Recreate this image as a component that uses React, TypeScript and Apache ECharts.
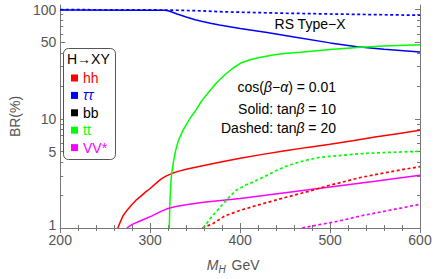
import React, { useEffect, useRef } from "react";
import * as echarts from "echarts";

// ---- data (BR in %) ----
const hhSolidM = [264, 267, 270, 275, 280, 285, 290, 295, 300, 306, 312, 318, 324, 330, 340, 357, 380, 400, 425, 450, 475, 500, 525, 550, 575, 600];
const hhSolidBR = [1, 1.15, 1.3, 1.48, 1.65, 1.82, 1.97, 2.14, 2.3, 2.55, 2.8, 3.0, 3.15, 3.28, 3.45, 3.7, 4.05, 4.35, 4.72, 5.1, 5.47, 5.85, 6.3, 6.8, 7.3, 7.85];
const hhDashM = [358, 370, 383, 400, 423, 450, 475, 497, 534, 565, 600];
const hhDashBR = [1, 1.1, 1.29, 1.45, 1.65, 1.9, 2.15, 2.43, 2.9, 3.25, 3.65];

const tauSolidM = [200, 300, 316, 320, 324, 330, 340, 350, 357, 367, 377, 400, 430, 460, 500, 530, 560, 600];
const tauSolidBR = [98.9, 98.6, 98.3, 97.5, 95, 91, 85.5, 80.5, 78, 75, 72.2, 67, 61.5, 56, 49.5, 45.7, 43.3, 40.8];
const tauDashM = [200, 300, 330, 357, 377, 400, 450, 500, 550, 600];
const tauDashBR = [99.7, 99.3, 98.5, 97.2, 95.5, 94.5, 92.5, 91, 89.8, 88.6];

const ttSolidM = [321.2, 322, 323, 324, 326, 328, 330, 332, 336, 340, 345, 350, 357, 365, 374, 383, 392, 401, 410, 420, 438, 452, 467, 500, 530, 560, 600];
const ttSolidBR = [1, 1.8, 2.6, 3.2, 4.1, 5, 5.8, 6.5, 7.7, 8.8, 10.3, 11.7, 14.5, 17.5, 21.5, 25.3, 29, 32.4, 34.5, 36.2, 38.5, 39.7, 40.7, 43, 45, 46.3, 47.5];
const ttDashM = [358.8, 362, 366, 371, 376, 381, 386, 395, 405, 414, 425, 437, 450, 465, 476, 487, 500, 510, 524, 540, 560, 580, 600];
const ttDashBR = [1, 1.08, 1.2, 1.34, 1.49, 1.67, 1.85, 2.2, 2.45, 2.63, 2.9, 3.25, 3.65, 4.0, 4.22, 4.41, 4.53, 4.6, 4.72, 4.82, 4.9, 4.97, 5.03];

const vvSolidM = [274, 280, 290, 302, 312, 318, 324, 330, 340, 357, 400, 450, 500, 550, 600];
const vvSolidBR = [1, 1.08, 1.17, 1.29, 1.42, 1.49, 1.54, 1.58, 1.63, 1.71, 1.86, 2.1, 2.37, 2.68, 3.04];
const vvDashM = [469, 490, 510, 534, 560, 580, 600];
const vvDashBR = [1, 1.08, 1.16, 1.29, 1.42, 1.53, 1.65];

const bbM: number[] = [];
const bbBR: number[] = [];

const xTicks = [200, 300, 400, 500, 600];
const yMajorTicks = [1, 5, 10, 50, 100];
const yMinorTicks = [2, 3, 4, 6, 7, 8, 9, 20, 30, 40, 60, 70, 80, 90];
const legendNames = ["hh", "ττ", "bb", "tt", "VV*"];

const RED = "#ff0000";
const BLUE = "#0000ff";
const BLACK = "#000000";
const GREEN = "#00ff00";
const MAGENTA = "#ff00ff";
const FRAME = "#777777";
const LABEL = "#555555";
const FONT = "'Liberation Sans', Arial, sans-serif";

const lg = (v: number) => Math.log10(v);
const pts = (m: number[], br: number[]) => m.map((x, i) => [x, lg(br[i])]);

export default function App() {
  const ref = useRef<HTMLDivElement>(null);
  useEffect(() => {
    document.body.style.margin = "0";
    if (!ref.current) return;
    const chart = echarts.init(ref.current, undefined, { renderer: "svg" });
    const yMax = lg(110);
    const majorLog = yMajorTicks.map(lg);
    const minorLog = yMinorTicks.map(lg);
    const solid = (name: string, color: string, m: number[], br: number[]) => ({
      name,
      type: "line",
      data: pts(m, br),
      showSymbol: false,
      symbol: "none",
      color,
      itemStyle: { color },
      lineStyle: { color, width: 1.5 },
      smooth: false,
      clip: true,
      z: 3,
    });
    const dashed = (name: string, color: string, m: number[], br: number[]) => ({
      ...solid(name, color, m, br),
      lineStyle: { color, width: 1.7, type: [3, 2.5] },
    });
    const baseX = {
      type: "value",
      min: xTicks[0],
      max: xTicks[xTicks.length - 1],
      interval: 100,
      axisLine: { show: true, lineStyle: { color: FRAME, width: 1 } },
      axisTick: { show: true, inside: true, length: 5, lineStyle: { color: FRAME } },
      minorTick: { show: true, splitNumber: 5, length: 3, lineStyle: { color: FRAME } },
      splitLine: { show: false },
    };
    const baseY = {
      type: "value",
      min: 0,
      max: yMax,
      splitLine: { show: false },
    };
    chart.setOption({
      animation: false,
      grid: { left: 58, right: 16, top: 5, bottom: 50 },
      textStyle: { fontFamily: FONT },
      xAxis: [
        {
          ...baseX,
          position: "bottom",
          axisLabel: { color: LABEL, fontSize: 14, margin: 5, fontFamily: FONT },
          name: "{i|M}{s|H} GeV",
          nameLocation: "middle",
          nameGap: 28,
          nameTextStyle: {
            color: LABEL,
            fontSize: 14,
            fontFamily: FONT,
            padding: [0, 14, 0, 0],
            rich: {
              i: { fontStyle: "italic", fontSize: 14, color: LABEL, fontFamily: FONT },
              s: { fontStyle: "italic", fontSize: 10, color: LABEL, fontFamily: FONT, padding: [8, 2, 0, 0] },
            },
          },
        },
        { ...baseX, position: "top", axisLabel: { show: false } },
      ],
      yAxis: [
        {
          ...baseY,
          position: "left",
          axisLine: { show: true, lineStyle: { color: FRAME, width: 1 } },
          axisTick: { show: true, inside: true, length: 5, customValues: majorLog, lineStyle: { color: FRAME } },
          axisLabel: {
            customValues: majorLog,
            formatter: (v: number) => {
              const n = Math.round(Math.pow(10, v));
              return n === 1 ? "{lo|1}" : String(n);
            },
            color: LABEL,
            fontSize: 14,
            margin: 4,
            fontFamily: FONT,
            rich: { lo: { color: LABEL, fontSize: 14, fontFamily: FONT, padding: [0, 0, 6, 0] } },
          },
          name: "BR(%)",
          nameLocation: "middle",
          nameGap: 38,
          nameTextStyle: { color: LABEL, fontSize: 14, fontFamily: FONT },
        },
        {
          ...baseY,
          position: "left",
          axisLine: { show: false },
          axisTick: { show: true, inside: true, length: 3, customValues: minorLog, lineStyle: { color: FRAME } },
          axisLabel: { show: false },
        },
        {
          ...baseY,
          position: "right",
          axisLine: { show: true, lineStyle: { color: FRAME, width: 1 } },
          axisTick: { show: true, inside: true, length: 5, customValues: majorLog, lineStyle: { color: FRAME } },
          axisLabel: { show: false },
        },
        {
          ...baseY,
          position: "right",
          axisLine: { show: false },
          axisTick: { show: true, inside: true, length: 3, customValues: minorLog, lineStyle: { color: FRAME } },
          axisLabel: { show: false },
        },
      ],
      legend: {
        data: [
          { name: legendNames[0], textStyle: { color: RED } },
          { name: legendNames[1], textStyle: { color: BLUE, fontStyle: "italic" } },
          { name: legendNames[2], textStyle: { color: BLACK } },
          { name: legendNames[3], textStyle: { color: GREEN } },
          { name: legendNames[4], textStyle: { color: MAGENTA } },
        ],
        orient: "vertical",
        left: 71,
        top: 71,
        padding: 0,
        icon: "rect",
        itemWidth: 7,
        itemHeight: 7,
        itemGap: 3.4,
        textStyle: { fontSize: 14, fontFamily: FONT },
        selectedMode: false,
        z: 20,
      },
      graphic: [
        {
          type: "rect",
          shape: { x: 63.5, y: 48.5, width: 52, height: 111, r: 5 },
          style: { fill: "#ffffff", stroke: "#555555", lineWidth: 1 },
          z: 10,
        },
        {
          type: "text",
          x: 67,
          y: 59,
          style: { text: "H→XY", fill: "#000", fontSize: 14, fontFamily: FONT, verticalAlign: "middle", align: "left" },
          z: 11,
        },
        {
          type: "text",
          x: 310,
          y: 24,
          style: { text: "RS Type−X", fill: "#000", fontSize: 14, fontFamily: FONT, verticalAlign: "middle", align: "center" },
          z: 11,
        },
        {
          type: "text",
          x: 336,
          y: 87,
          style: {
            text: "cos({i|β}−{i|α}) = 0.01",
            fill: "#000",
            fontSize: 14,
            fontFamily: FONT,
            verticalAlign: "middle",
            align: "right",
            rich: { i: { fontStyle: "italic", fontSize: 14, fontFamily: FONT, fill: "#000" } },
          },
          z: 11,
        },
        {
          type: "text",
          x: 336,
          y: 109,
          style: {
            text: "Solid: tan{i|β} = 10",
            fill: "#000",
            fontSize: 14,
            fontFamily: FONT,
            verticalAlign: "middle",
            align: "right",
            rich: { i: { fontStyle: "italic", fontSize: 14, fontFamily: FONT, fill: "#000" } },
          },
          z: 11,
        },
        {
          type: "text",
          x: 336,
          y: 128,
          style: {
            text: "Dashed: tan{i|β} = 20",
            fill: "#000",
            fontSize: 14,
            fontFamily: FONT,
            verticalAlign: "middle",
            align: "right",
            rich: { i: { fontStyle: "italic", fontSize: 14, fontFamily: FONT, fill: "#000" } },
          },
          z: 11,
        },
      ],
      series: [
        solid("hh", RED, hhSolidM, hhSolidBR),
        solid("ττ", BLUE, tauSolidM, tauSolidBR),
        solid("bb", BLACK, bbM, bbBR),
        solid("tt", GREEN, ttSolidM, ttSolidBR),
        solid("VV*", MAGENTA, vvSolidM, vvSolidBR),
        dashed("hh20", RED, hhDashM, hhDashBR),
        dashed("ττ20", BLUE, tauDashM, tauDashBR),
        dashed("tt20", GREEN, ttDashM, ttDashBR),
        dashed("VV*20", MAGENTA, vvDashM, vvDashBR),
      ],
    });
    return () => chart.dispose();
  }, []);
  return <div ref={ref} style={{ width: 436, height: 279 }} />;
}
